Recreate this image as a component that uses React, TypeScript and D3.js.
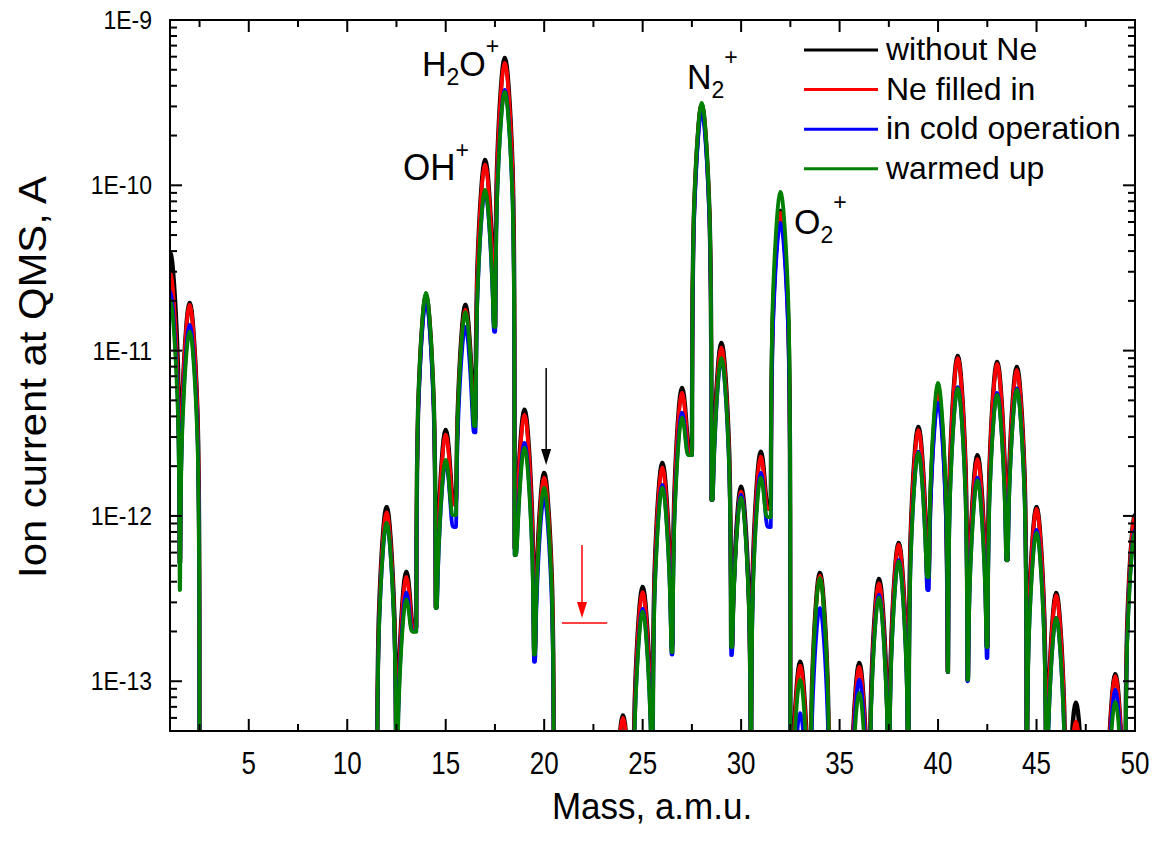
import React from 'react';
import * as d3 from 'd3';

// ---------- data ----------
const MASSES = [1,2,3,4,5,6,7,8,9,10,11,12,13,14,15,16,17,18,19,20,21,22,23,24,25,26,27,28,29,30,31,32,33,34,35,36,37,38,39,40,41,42,43,44,45,46,47,48,49,50];

// peak ion current at each integer mass 1..50 (null = below the axis)
const PEAK_WITHOUT_NE = [
  3.95e-11, 1.94e-11, null, null, null, null, null, null, null, null,
  null, 1.13e-12, 4.58e-13, 2.15e-11, 3.31e-12, 1.89e-11, 1.42e-10, 5.89e-10, 4.38e-12, 1.82e-12,
  null, null, null, 6.2e-14, 3.71e-13, 2.09e-12, 5.94e-12, 3.07e-10, 1.11e-11, 1.5e-12,
  2.44e-12, 7.0e-11, 1.31e-13, 4.52e-13, null, 1.29e-13, 4.15e-13, 6.86e-13, 3.45e-12, 5.54e-12,
  9.27e-12, 2.33e-12, 8.53e-12, 7.96e-12, 1.13e-12, 3.42e-13, 7.4e-14, null, 1.1e-13, 1.01e-12,
];
const PEAK_NE_FILLED = [
  2.99e-11, 1.89e-11, null, null, null, null, null, null, null, null,
  null, 1.05e-12, 4.26e-13, 2.15e-11, 3.1e-12, 1.76e-11, 1.33e-10, 5.49e-10, 4.08e-12, 1.7e-12,
  null, null, null, 6.0e-14, 3.46e-13, 1.96e-12, 5.55e-12, 3.07e-10, 1.04e-11, 1.4e-12,
  2.28e-12, 6.8e-11, 1.24e-13, 4.34e-13, null, 1.22e-13, 3.9e-13, 6.7e-13, 3.3e-12, 5.4e-12,
  9.0e-12, 2.2e-12, 8.3e-12, 7.6e-12, 1.1e-12, 3.3e-13, 5.7e-14, null, 1.07e-13, 9.9e-13,
];
const PEAK_COLD = [
  2.27e-11, 1.43e-11, null, null, null, null, null, null, null, null,
  null, 9.0e-13, 3.42e-13, 1.98e-11, 2.1e-12, 1.39e-11, 9.1e-11, 3.77e-10, 2.76e-12, 1.28e-12,
  null, null, null, null, 2.74e-13, 1.54e-12, 4.2e-12, 2.77e-10, 8.8e-12, 1.34e-12,
  1.82e-12, 5.91e-11, 6.4e-14, 2.77e-13, null, 1.02e-13, 3.33e-13, 5.4e-13, 2.44e-12, 4.82e-12,
  6.0e-12, 1.7e-12, 5.54e-12, 5.9e-12, 8.22e-13, 2.41e-13, null, null, 8.85e-14, 8.2e-13,
];
const PEAK_WARMED = [
  2.02e-11, 1.3e-11, null, null, null, null, null, null, null, null,
  null, 9.06e-13, 3.1e-13, 2.23e-11, 2.18e-12, 1.71e-11, 9.38e-11, 3.67e-10, 2.58e-12, 1.48e-12,
  null, null, null, null, 2.63e-13, 1.48e-12, 3.92e-12, 3.15e-10, 9.0e-12, 1.29e-12,
  1.7e-12, 9.1e-11, 1.02e-13, 4.2e-13, null, 8.5e-14, 3.2e-13, 5.3e-13, 2.4e-12, 6.37e-12,
  5.9e-12, 1.64e-12, 5.4e-12, 5.8e-12, 7.9e-13, 2.41e-13, null, null, 7.48e-14, 7.9e-13,
];

// minimum between neighbouring masses, at 1.5, 2.5, ... 49.5 (null = below the axis)
const DIP_WITHOUT_NE = [
  5.2e-13, null, null, null, null, null, null, null, null, null,
  null, null, 2.13e-13, 2.8e-13, 1.25e-12, 3.9e-12, 1.39e-11, 6.4e-13, 1.55e-13, null,
  null, null, null, null, null, 1.66e-13, 2.5e-12, 1.25e-12, 1.6e-13, null,
  1.16e-12, null, null, null, null, null, null, null, 4.3e-13, 1.14e-13,
  1.02e-13, 1.61e-13, 5.4e-13, null, null, null, null, null, null,
];
const DIP_NE_FILLED = [
  5.2e-13, null, null, null, null, null, null, null, null, null,
  null, null, 2.1e-13, 2.8e-13, 1.17e-12, 3.8e-12, 1.39e-11, 6.4e-13, 1.55e-13, null,
  null, null, null, null, null, 1.6e-13, 2.4e-12, 1.25e-12, 1.6e-13, null,
  1.1e-12, null, null, null, null, null, null, null, 4.3e-13, 1.14e-13,
  1.02e-13, 1.61e-13, 5.4e-13, null, null, null, null, null, null,
];
const DIP_COLD = [
  5.2e-13, null, null, null, null, null, null, null, null, null,
  null, null, 2.0e-13, 2.77e-13, 8.57e-13, 3.2e-12, 1.3e-11, 5.8e-13, 1.31e-13, null,
  null, null, null, null, null, 1.45e-13, 2.33e-12, 1.25e-12, 1.44e-13, null,
  8.57e-13, null, null, null, null, null, null, null, 3.56e-13, 1.14e-13,
  1.0e-13, 1.38e-13, 5.4e-13, null, null, null, null, null, null,
];
const DIP_WARMED = [
  3.56e-13, null, null, null, null, null, null, null, null, null,
  null, null, 1.99e-13, 2.77e-13, 1.01e-12, 3.5e-12, 1.39e-11, 5.8e-13, 1.45e-13, null,
  null, null, null, null, null, 1.5e-13, 2.33e-12, 1.25e-12, 1.61e-13, null,
  9.84e-13, null, null, null, null, null, null, null, 4.27e-13, 1.14e-13,
  1.02e-13, 1.61e-13, 5.4e-13, null, null, null, null, null, null,
];

const SERIES_NAMES = ['without Ne', 'Ne filled in', 'in cold operation', 'warmed up'];
const SERIES_COLORS = ['#000000', '#ff0000', '#0000ff', '#008000'];
const SERIES_PEAKS = [PEAK_WITHOUT_NE, PEAK_NE_FILLED, PEAK_COLD, PEAK_WARMED];
const SERIES_DIPS = [DIP_WITHOUT_NE, DIP_NE_FILLED, DIP_COLD, DIP_WARMED];

const X_TICKS = [5, 10, 15, 20, 25, 30, 35, 40, 45, 50];
const X_TICK_LABELS = ['5', '10', '15', '20', '25', '30', '35', '40', '45', '50'];
const X_MINOR = [2.5, 7.5, 12.5, 17.5, 22.5, 27.5, 32.5, 37.5, 42.5, 47.5];
const Y_TICKS = [1e-13, 1e-12, 1e-11, 1e-10, 1e-9];
const Y_TICK_LABELS = ['1E-13', '1E-12', '1E-11', '1E-10', '1E-9'];

// instrument line shape: drop in decades vs. distance from the peak centre (amu)
const PROFILE_U = [0, 0.05, 0.1, 0.15, 0.2, 0.25, 0.3, 0.35, 0.4, 0.43, 0.46, 0.48, 0.49, 0.495, 0.5];
const PROFILE_DROP = [0, 0.015, 0.05, 0.11, 0.19, 0.28, 0.39, 0.52, 0.68, 0.85, 1.1, 1.45, 1.8, 2.5, 8];

// ---------- layout ----------
const W = 1164, H = 850;
const X0 = 170, X1 = 1135, Y0 = 20, Y1 = 731;
const FONT = '"Liberation Sans", Arial, Helvetica, sans-serif';

const x = d3.scaleLinear().domain([1, 50]).range([X0, X1]);
const y = d3.scaleLog().domain([5e-14, 1e-9]).range([Y1, Y0]);
const drop = d3.scaleLinear().domain(PROFILE_U).range(PROFILE_DROP).clamp(true);
const FLOOR = 1e-15;
const SOFT = 7;

function buildPoints(peaks: (number | null)[], dips: (number | null)[]): [number, number][] {
  const pts: [number, number][] = [];
  MASSES.forEach((m, i) => {
    const P = peaks[i] ?? FLOOR;
    const dl = i > 0 ? (dips[i - 1] ?? FLOOR) : FLOOR;
    const dr = i < dips.length ? (dips[i] ?? FLOOR) : FLOOR;
    for (let k = -100; k <= 100; k++) {
      const u = k / 200;
      const D = Math.log10(u < 0 ? dl : dr);
      const A = Math.log10(P) - drop(Math.abs(u));
      const hi = Math.max(A, D);
      const lv = hi + Math.log10(Math.pow(10, SOFT * (A - hi)) + Math.pow(10, SOFT * (D - hi))) / SOFT;
      pts.push([m + u, Math.pow(10, lv)]);
    }
  });
  return pts;
}

const line = d3.line<[number, number]>()
  .x(d => x(d[0]))
  .y(d => Math.min(y(d[1]), Y1 + 400));

function yMinor(): number[] {
  const out: number[] = [];
  [1e-14, 1e-13, 1e-12, 1e-11, 1e-10].forEach(dec => {
    for (let k = 2; k <= 9; k++) {
      const v = k * dec;
      if (v >= 5e-14 && v <= 1e-9) out.push(v);
    }
  });
  return out;
}

function SText(props: { x: number; y: number; size: number; sx?: number; sy?: number; anchor?: string; children: React.ReactNode; rotate?: boolean; fill?: string }) {
  const sx = props.sx ?? 1, sy = props.sy ?? 1;
  const t = props.rotate
    ? `translate(${props.x},${props.y}) rotate(-90) scale(${sx},${sy})`
    : `translate(${props.x},${props.y}) scale(${sx},${sy})`;
  return (
    <text transform={t} fontSize={props.size} fontFamily={FONT} textAnchor={props.anchor || 'start'} fill={props.fill || '#000'}>
      {props.children}
    </text>
  );
}

export default function App() {
  const ym = yMinor();
  const paths = SERIES_PEAKS.map((p, i) => line(buildPoints(p, SERIES_DIPS[i])) || '');
  const tickW = 2;
  const ax = x(20.1), rx = x(21.92);
  return (
    <svg width={W} height={H} style={{ position: 'absolute', left: 0, top: 0, background: '#fff' }}>
      <defs>
        <clipPath id="plot">
          <rect x={X0} y={Y0} width={X1 - X0} height={Y1 - Y0} />
        </clipPath>
      </defs>
      <rect x={0} y={0} width={W} height={H} fill="#fff" />

      <g clipPath="url(#plot)">
        {paths.map((d, i) => (
          <path key={i} d={d} fill="none" stroke={SERIES_COLORS[i]} strokeWidth={i === 0 ? 4.4 : 3.8} strokeLinejoin="round" />
        ))}
      </g>

      {/* arrows */}
      <g>
        <line x1={ax} x2={ax} y1={368} y2={452} stroke="#000" strokeWidth={1.5} />
        <path d={`M${ax - 5},${449} L${ax + 5},${449} L${ax},${465} Z`} fill="#000" />
        <line x1={rx} x2={rx} y1={545} y2={604} stroke="#ff0000" strokeWidth={1.5} />
        <path d={`M${rx - 5},${602} L${rx + 5},${602} L${rx},${618} Z`} fill="#ff0000" />
        <line x1={x(20.9)} x2={x(23.2)} y1={623} y2={623} stroke="#ff0000" strokeWidth={1.5} />
      </g>

      {/* axes frame */}
      <rect x={X0} y={Y0} width={X1 - X0} height={Y1 - Y0} fill="none" stroke="#000" strokeWidth={2} />

      {/* x ticks */}
      {X_TICKS.map(v => (
        <g key={'xt' + v}>
          <line x1={x(v)} x2={x(v)} y1={Y1} y2={Y1 - 12} stroke="#000" strokeWidth={tickW} />
          <line x1={x(v)} x2={x(v)} y1={Y0} y2={Y0 + 12} stroke="#000" strokeWidth={tickW} />
        </g>
      ))}
      {X_MINOR.map(v => (
        <g key={'xm' + v}>
          <line x1={x(v)} x2={x(v)} y1={Y1} y2={Y1 - 7} stroke="#000" strokeWidth={tickW} />
          <line x1={x(v)} x2={x(v)} y1={Y0} y2={Y0 + 7} stroke="#000" strokeWidth={tickW} />
        </g>
      ))}
      {X_TICKS.map((v, i) => (
        <SText key={'xl' + v} x={x(v)} y={774} size={26} sy={1.18} anchor="middle">{X_TICK_LABELS[i]}</SText>
      ))}

      {/* y ticks */}
      {Y_TICKS.map(v => (
        <g key={'yt' + v}>
          <line x1={X0} x2={X0 + 12} y1={y(v)} y2={y(v)} stroke="#000" strokeWidth={tickW} />
          <line x1={X1} x2={X1 - 12} y1={y(v)} y2={y(v)} stroke="#000" strokeWidth={tickW} />
        </g>
      ))}
      {ym.map(v => (
        <g key={'ym' + v}>
          <line x1={X0} x2={X0 + 7} y1={y(v)} y2={y(v)} stroke="#000" strokeWidth={tickW} />
          <line x1={X1} x2={X1 - 7} y1={y(v)} y2={y(v)} stroke="#000" strokeWidth={tickW} />
        </g>
      ))}
      {Y_TICKS.map((v, i) => (
        <SText key={'yl' + v} x={152} y={y(v) + 9} size={23} sy={1.1} anchor="end">{Y_TICK_LABELS[i]}</SText>
      ))}

      {/* axis titles */}
      <SText x={652} y={819} size={35} sy={1.08} anchor="middle">Mass, a.m.u.</SText>
      <SText x={46} y={377} size={38} sx={1.1} anchor="middle" rotate>Ion current at QMS, A</SText>

      {/* peak labels */}
      <SText x={422} y={76} size={34} sy={1.05}>
        <tspan>H</tspan><tspan fontSize={23} dy={9}>2</tspan><tspan dy={-9}>O</tspan><tspan fontSize={23} dy={-21}>+</tspan>
      </SText>
      <SText x={403} y={180} size={35} sy={1.05}>
        <tspan>OH</tspan><tspan fontSize={23} dy={-21}>+</tspan>
      </SText>
      <SText x={687} y={89} size={34} sy={1.05}>
        <tspan>N</tspan><tspan fontSize={23} dy={9}>2</tspan><tspan fontSize={23} dy={-32}>+</tspan>
      </SText>
      <SText x={794} y={234} size={34} sy={1.05}>
        <tspan>O</tspan><tspan fontSize={23} dy={9}>2</tspan><tspan fontSize={23} dy={-32}>+</tspan>
      </SText>

      {/* legend */}
      {SERIES_NAMES.map((n, i) => (
        <g key={'lg' + i}>
          <line x1={804} x2={878} y1={50 + i * 39.6} y2={50 + i * 39.6} stroke={SERIES_COLORS[i]} strokeWidth={3} />
          <SText x={886} y={50 + i * 39.6 + 10} size={32}>{n}</SText>
        </g>
      ))}
    </svg>
  );
}
